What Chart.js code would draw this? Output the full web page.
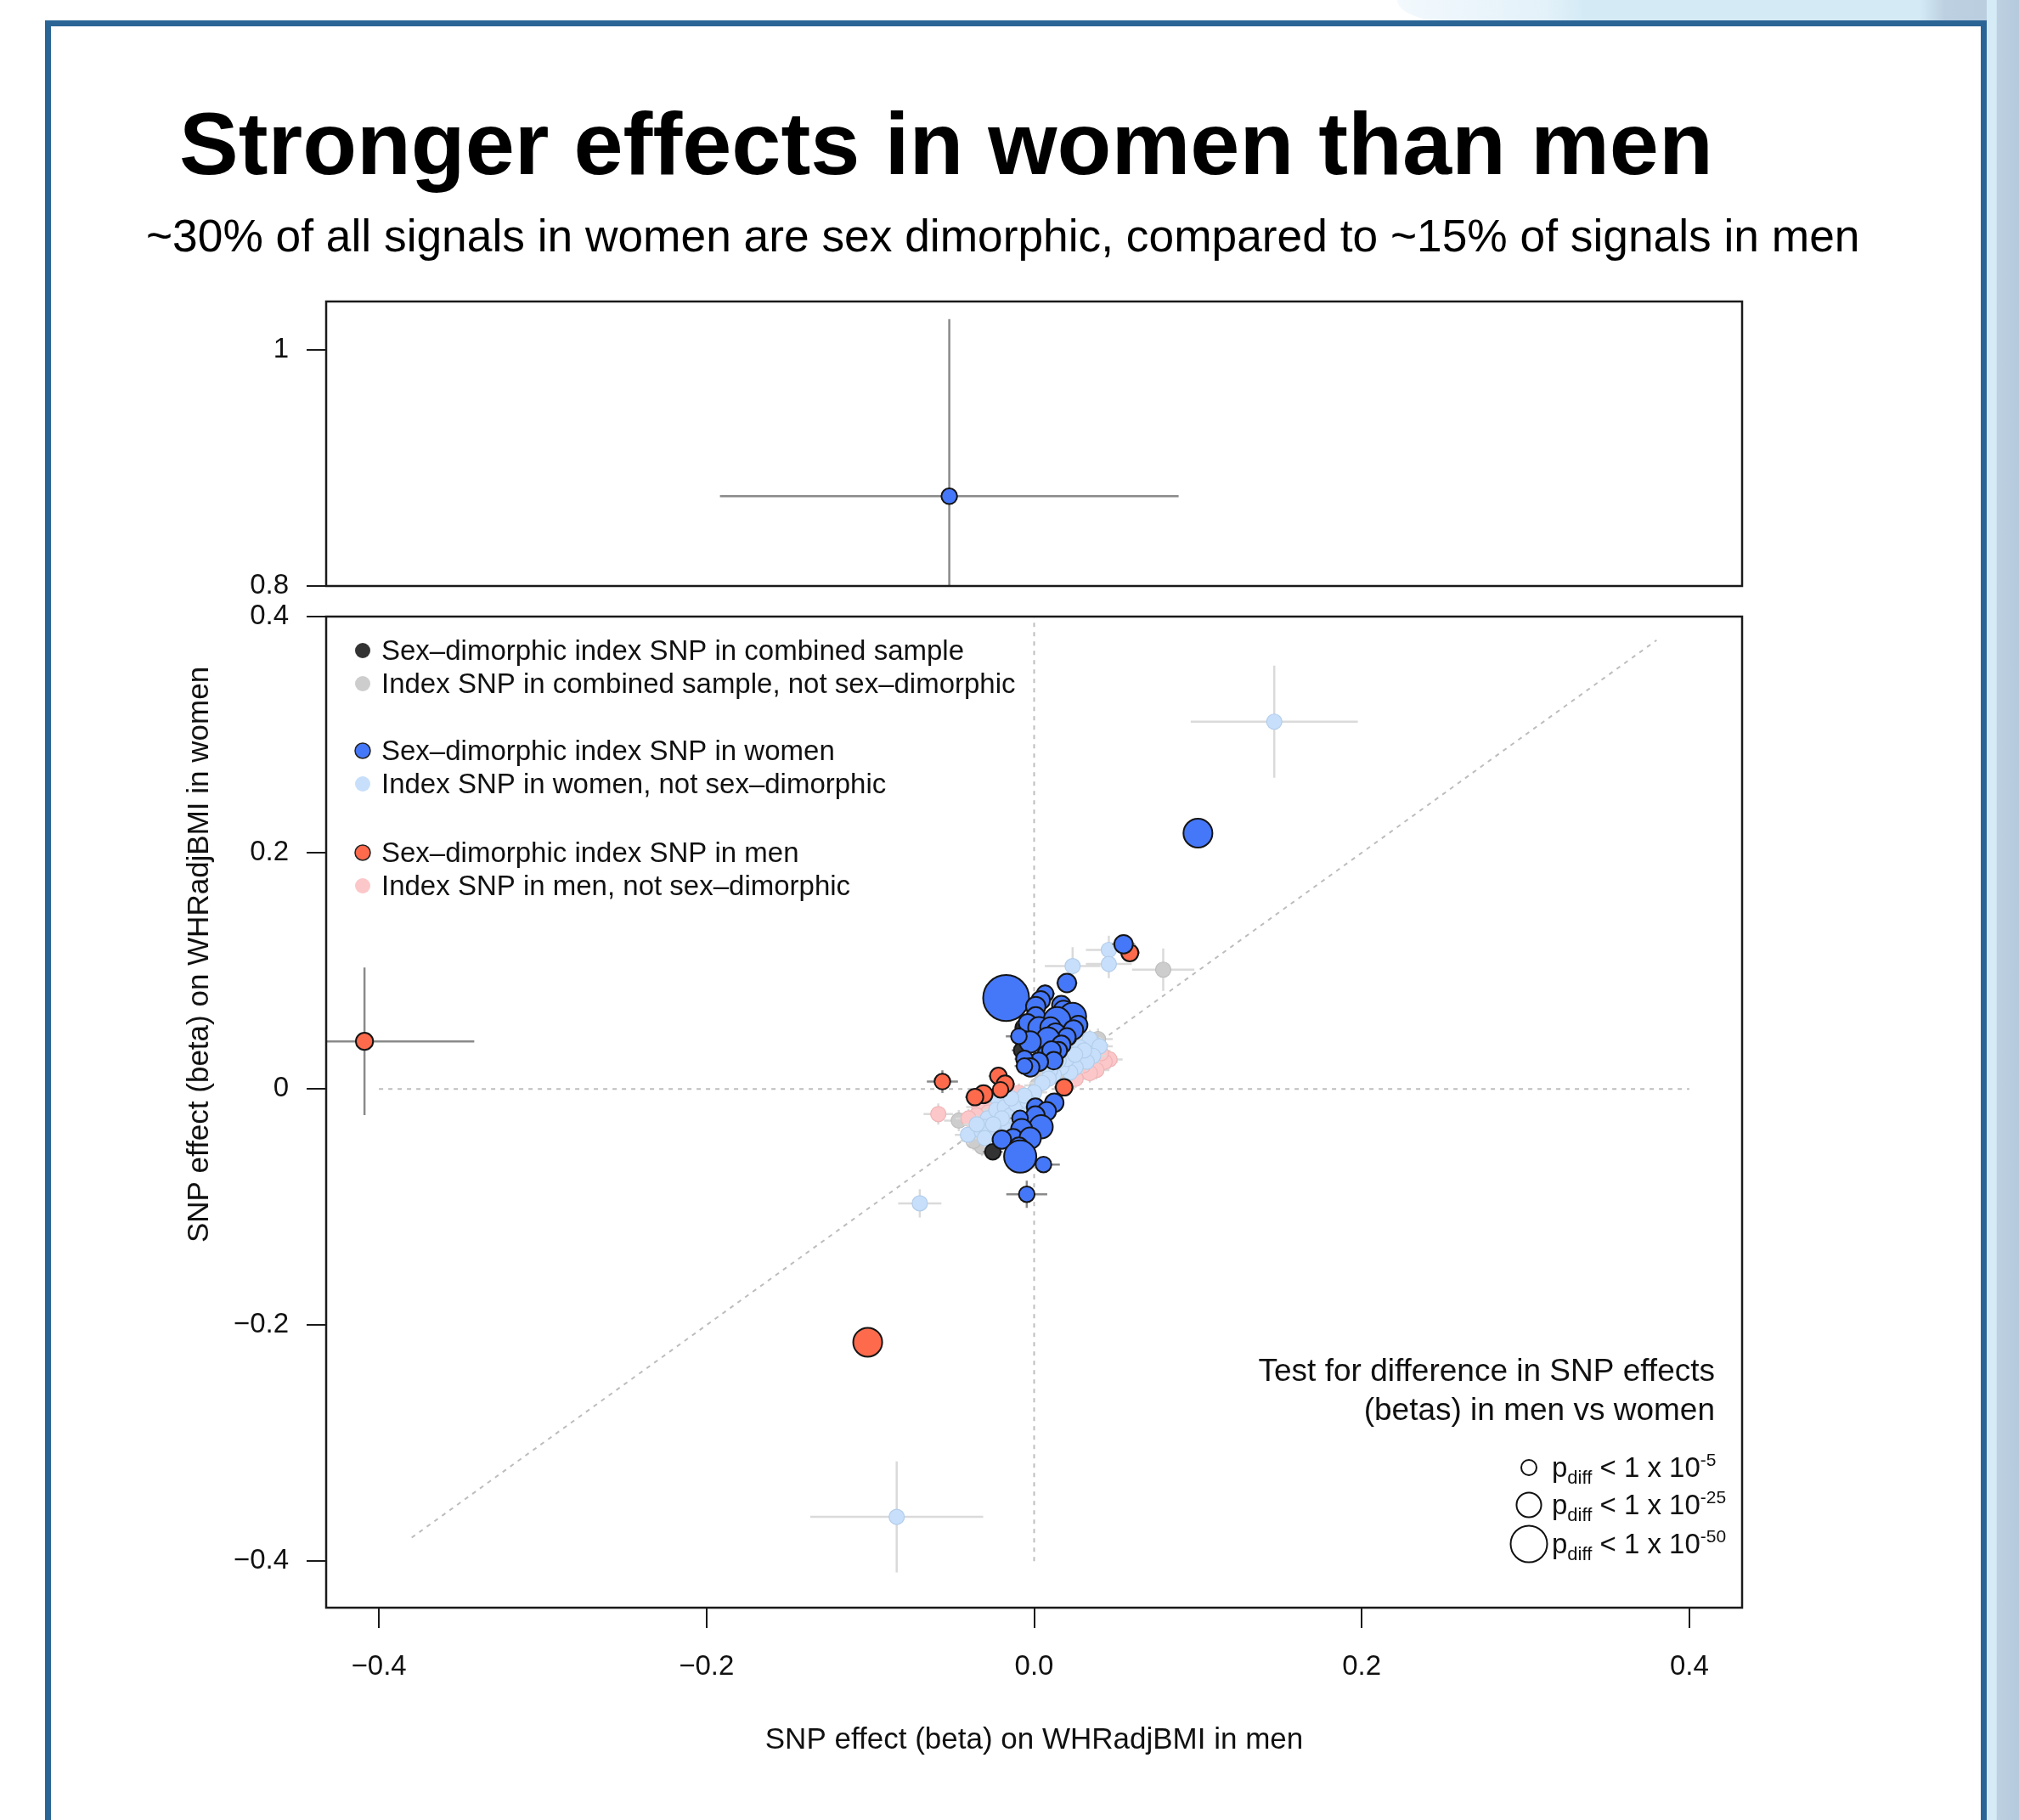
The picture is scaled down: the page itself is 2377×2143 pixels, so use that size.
<!DOCTYPE html>
<html>
<head>
<meta charset="utf-8">
<title>Stronger effects in women than men</title>
<script src="https://cdn.jsdelivr.net/npm/chart.js@4.4.1/dist/chart.umd.min.js"></script>
<style>
  html, body { margin: 0; padding: 0; background: #fff; }
  #slide { position: relative; width: 2377px; height: 2143px; overflow: hidden; background: #fff;
           font-family: "Liberation Sans", Arial, Helvetica, sans-serif; color: #000; }
  .deco-top { position: absolute; left: 1645px; top: 0; width: 732px; height: 27px;
              background: linear-gradient(to right, #f3f9fd 0%, #e3f1f9 24%, #d4ebf6 30%, #d4ebf6 84%, #bdd0e1 88%, #b8ccdf 100%);
              border-bottom-left-radius: 70px 27px; }
  .deco-side { position: absolute; left: 2339px; top: 0; width: 38px; height: 2143px;
               background: linear-gradient(to right, #d5ebf6 0%, #d5ebf6 30%, #bdd0e1 31%, #b6cade 100%); }
  #frame { position: absolute; left: 53px; top: 24px; width: 2286px; height: 2200px;
           border: 7px solid #2b6596; box-sizing: border-box; }
  #title { position: absolute; left: 211px; top: 117px; font-size: 104.5px; font-weight: bold;
           line-height: 1; white-space: nowrap; }
  #subtitle { position: absolute; left: 172px; top: 251px; font-size: 53.3px; line-height: 1; white-space: nowrap; }
  canvas { position: absolute; left: 0; top: 0; }
</style>
</head>
<body>
<div id="slide">
  <div class="deco-top"></div>
  <div class="deco-side"></div>
  <div id="frame"></div>
  <div id="title">Stronger effects in women than men</div>
  <div id="subtitle">~30% of all signals in women are sex dimorphic, compared to ~15% of signals in men</div>
  <canvas id="lower" width="2377" height="2143"></canvas>
  <canvas id="upper" width="2377" height="2143"></canvas>
</div>
<script>
// rows: [beta men, beta women, CI half-width men, CI half-width women, -log10 p_diff]
const womenSig = [
    [-0.0518, 0.876, 0.140, 0.150, 6],
    [0.100, 0.2166, 0.006, 0.006, 34],
    [-0.0171, 0.077, 0.006, 0.006, 70],
    [0.0546, 0.1225, 0.007, 0.006, 12],
    [0.020, 0.0897, 0.0064, 0.006, 12],
    [0.0067, 0.0806, 0.006, 0.008, 8],
    [0.004, 0.075, 0.006, 0.006, 12],
    [0.001, 0.0698, 0.006, 0.006, 14],
    [0.0166, 0.071, 0.006, 0.006, 12],
    [0.018, 0.066, 0.006, 0.006, 16],
    [0.001, 0.0614, 0.006, 0.006, 12],
    [0.0235, 0.0614, 0.006, 0.006, 30],
    [0.014, 0.0578, 0.006, 0.006, 30],
    [0.0269, 0.0542, 0.006, 0.006, 12],
    [-0.004, 0.056, 0.006, 0.006, 10],
    [0.0029, 0.0518, 0.006, 0.006, 18],
    [0.010, 0.052, 0.006, 0.006, 16],
    [0.024, 0.050, 0.006, 0.006, 14],
    [0.0131, 0.047, 0.006, 0.006, 15],
    [0.020, 0.044, 0.006, 0.006, 10],
    [0.0085, 0.0422, 0.006, 0.006, 22],
    [-0.0024, 0.0398, 0.006, 0.006, 18],
    [-0.0093, 0.0446, 0.008, 0.006, 6],
    [0.0166, 0.0374, 0.006, 0.006, 12],
    [0.0077, 0.029, 0.006, 0.006, 12],
    [0.0149, 0.0326, 0.006, 0.006, 9],
    [0.0106, 0.0326, 0.006, 0.006, 12],
    [0.012, 0.024, 0.006, 0.006, 10],
    [0.0029, 0.023, 0.006, 0.006, 12],
    [-0.0059, 0.0254, 0.006, 0.006, 8],
    [-0.0024, 0.0182, 0.006, 0.006, 12],
    [-0.0059, 0.0194, 0.006, 0.006, 6],
    [0.0123, -0.0117, 0.006, 0.006, 12],
    [0.0008, -0.0153, 0.006, 0.006, 9],
    [0.0077, -0.0189, 0.006, 0.006, 12],
    [0.0008, -0.0225, 0.006, 0.006, 12],
    [-0.0086, -0.0249, 0.006, 0.006, 6],
    [0.0043, -0.0321, 0.006, 0.006, 22],
    [-0.0076, -0.0345, 0.006, 0.006, 18],
    [-0.0128, -0.0417, 0.006, 0.006, 12],
    [-0.0024, -0.0417, 0.006, 0.006, 18],
    [-0.0197, -0.0429, 0.006, 0.006, 12],
    [-0.0093, -0.0489, 0.006, 0.006, 12],
    [-0.0085, -0.0573, 0.006, 0.006, 41],
    [0.0057, -0.064, 0.010, 0.006, 6],
    [-0.0045, -0.0892, 0.0125, 0.0115, 6]
];
const menSig = [
    [-0.4088, 0.0403, 0.067, 0.0625, 9],
    [-0.1016, -0.2145, 0.006, 0.006, 34],
    [0.0584, 0.1153, 0.006, 0.006, 9],
    [0.0209, 0.0434, 0.006, 0.006, 6],
    [0.0183, 0.0014, 0.006, 0.006, 8],
    [-0.056, 0.0062, 0.0095, 0.0096, 6],
    [-0.0218, 0.011, 0.006, 0.006, 8],
    [-0.0177, 0.0041, 0.006, 0.006, 9],
    [-0.0205, -0.0007, 0.006, 0.006, 6],
    [-0.0309, -0.0045, 0.006, 0.006, 11],
    [-0.0361, -0.0069, 0.006, 0.006, 8]
];
const combinedSig = [
    [-0.0059, 0.0518, 0.006, 0.006, 11],
    [-0.0076, 0.0326, 0.006, 0.006, 6],
    [-0.0252, -0.0532, 0.006, 0.006, 6]
];
// rows: [beta men, beta women, CI half-width men, CI half-width women]
const womenNonSig = [
    [0.1466, 0.311, 0.051, 0.0475],
    [-0.0839, -0.3624, 0.0528, 0.047],
    [-0.0698, -0.0969, 0.0132, 0.012],
    [0.0235, 0.104, 0.017, 0.016],
    [0.0456, 0.1177, 0.014, 0.012],
    [0.0456, 0.1058, 0.014, 0.012],
    [-0.0404, -0.0388, 0.008, 0.008],
    [0.0373, 0.0374, 0.008, 0.008],
    [0.034, 0.0422, 0.008, 0.008],
    [0.040, 0.036, 0.008, 0.008],
    [0.036, 0.028, 0.008, 0.008],
    [0.028, 0.035, 0.008, 0.008],
    [0.0321, 0.023, 0.008, 0.008],
    [0.0253, 0.0182, 0.008, 0.008],
    [0.022, 0.014, 0.008, 0.008],
    [0.0166, 0.0182, 0.008, 0.008],
    [0.012, 0.012, 0.008, 0.008],
    [0.0097, 0.0158, 0.008, 0.008],
    [0.008, 0.020, 0.008, 0.008],
    [0.0201, 0.0254, 0.008, 0.008],
    [0.0305, 0.0326, 0.008, 0.008],
    [0.0088, 0.0086, 0.008, 0.008],
    [0.005, 0.005, 0.008, 0.008],
    [0.015, 0.024, 0.008, 0.008],
    [0.025, 0.029, 0.008, 0.008],
    [0.000, -0.003, 0.008, 0.008],
    [-0.003, -0.020, 0.008, 0.008],
    [-0.008, -0.018, 0.008, 0.008],
    [-0.016, -0.030, 0.008, 0.008],
    [-0.022, -0.009, 0.008, 0.008],
    [-0.0283, -0.0249, 0.008, 0.008],
    [-0.0231, -0.0177, 0.008, 0.008],
    [-0.0179, -0.0153, 0.008, 0.008],
    [-0.0145, -0.0225, 0.008, 0.008],
    [-0.0301, -0.0321, 0.008, 0.008],
    [-0.0249, -0.0369, 0.008, 0.008],
    [-0.032, -0.036, 0.008, 0.008],
    [-0.0301, -0.0417, 0.008, 0.008],
    [-0.011, -0.0129, 0.008, 0.008],
    [-0.0041, -0.0105, 0.008, 0.008],
    [-0.0197, -0.0249, 0.008, 0.008],
    [-0.0059, -0.0057, 0.008, 0.008],
    [-0.014, -0.008, 0.008, 0.008],
    [-0.025, -0.030, 0.008, 0.008],
    [-0.035, -0.030, 0.008, 0.008]
];
const menNonSig = [
    [-0.0585, -0.0213, 0.009, 0.009],
    [0.046, 0.025, 0.008, 0.008],
    [0.043, 0.023, 0.008, 0.008],
    [0.0408, 0.0302, 0.008, 0.008],
    [0.038, 0.016, 0.008, 0.008],
    [0.034, 0.0134, 0.008, 0.008],
    [0.0253, 0.0086, 0.008, 0.008],
    [0.030, 0.020, 0.008, 0.008],
    [-0.0335, -0.0153, 0.008, 0.008],
    [-0.0266, -0.0105, 0.008, 0.008],
    [-0.028, -0.020, 0.008, 0.008],
    [-0.0352, -0.0225, 0.008, 0.008],
    [-0.040, -0.025, 0.008, 0.008],
    [-0.0093, -0.0033, 0.008, 0.008]
];
const combinedNonSig = [
    [0.0788, 0.101, 0.019, 0.018],
    [-0.046, -0.0268, 0.009, 0.009],
    [0.039, 0.0422, 0.009, 0.009],
    [0.035, 0.030, 0.008, 0.008],
    [0.026, 0.022, 0.008, 0.008],
    [0.0149, 0.011, 0.008, 0.008],
    [0.0201, 0.0086, 0.008, 0.008],
    [0.0045, 0.0134, 0.008, 0.008],
    [0.002, 0.003, 0.008, 0.008],
    [-0.0318, -0.0489, 0.008, 0.008],
    [-0.037, -0.044, 0.008, 0.008],
    [-0.030, -0.022, 0.008, 0.008],
    [-0.020, -0.030, 0.008, 0.008],
    [-0.012, -0.018, 0.008, 0.008]
];

const xTicks = [-0.4, -0.2, 0, 0.2, 0.4];
const xTickLabels = ['\u22120.4', '\u22120.2', '0.0', '0.2', '0.4'];
const lowerYTicks = [-0.4, -0.2, 0, 0.2, 0.4];
const lowerYTickLabels = ['\u22120.4', '\u22120.2', '0', '0.2', '0.4'];
const upperYTicks = [0.8, 1];
const upperYTickLabels = ['0.8', '1'];

const legendLabels = [
    'Sex\u2013dimorphic index SNP in combined sample',
    'Index SNP in combined sample, not sex\u2013dimorphic',
    'Sex\u2013dimorphic index SNP in women',
    'Index SNP in women, not sex\u2013dimorphic',
    'Sex\u2013dimorphic index SNP in men',
    'Index SNP in men, not sex\u2013dimorphic'
];
const sizeLegendTitle = ['Test for difference in SNP effects', '(betas) in men vs women'];
const sizeLegendExponents = [5, 25, 50];
const xTitle = 'SNP effect (beta) on WHRadjBMI in men';
const yTitle = 'SNP effect (beta) on WHRadjBMI in women';

// axis limits and reference lines (R-style 4% padding)
const xRange = [-0.4322, 0.4322];
const lowerYRange = [-0.4393, 0.4];
const upperYRange = [0.8, 1.041];
const zeroSpan = 0.4;
const identitySpan = 0.38;

// layout
const plotLeft = 384, plotRight = 2051;
const W = 2377, H = 2143;
const xAxisHeight = 120;
const FONT = '"Liberation Sans", Arial, Helvetica, sans-serif';

const BLUE = '#4577f9', RED = '#fd6a4c', BLACK = '#333333';
const LIGHTBLUE = '#c7dffa', PINK = '#fcc7c9', GREY = '#cdcdcd';

const sizeOf = lp => 7.6 + 0.278 * lp;

// index 0 is drawn on top
const series = [
    { rows: womenSig, fill: BLUE, sig: true },
    { rows: menSig, fill: RED, sig: true },
    { rows: combinedSig, fill: BLACK, sig: true },
    { rows: womenNonSig, fill: LIGHTBLUE, edge: '#b3cdea', sig: false },
    { rows: menNonSig, fill: PINK, edge: '#efb4b6', sig: false },
    { rows: combinedNonSig, fill: GREY, edge: '#bdbdbd', sig: false }
];

function pointDatasets() {
    return series.map(s => ({
        data: s.rows.map(r => ({ x: r[0], y: r[1], ciX: r[2], ciY: r[3], lp: r[4] })),
        backgroundColor: s.fill,
        borderColor: s.sig ? '#151515' : s.edge,
        borderWidth: s.sig ? 2 : 1.2,
        pointRadius: c => (s.sig && c.raw) ? sizeOf(c.raw.lp) : 9,
        pointHoverRadius: c => (s.sig && c.raw) ? sizeOf(c.raw.lp) : 9,
        barColor: s.sig ? '#8a8a8a' : '#dadada',
        clip: 0
    }));
}

function refLine(points) {
    return {
        data: points,
        showLine: true,
        borderColor: '#bdbdbd',
        borderWidth: 2,
        borderDash: [5, 6],
        pointRadius: 0,
        clip: 0
    };
}

const errorBars = {
    id: 'errorBars',
    beforeDatasetDraw(chart, args) {
        const ds = chart.data.datasets[args.index];
        if (!ds.barColor) return;
        const { ctx, chartArea: a, scales: { x, y } } = chart;
        ctx.save();
        ctx.beginPath();
        ctx.rect(a.left, a.top, a.right - a.left, a.bottom - a.top);
        ctx.clip();
        ctx.strokeStyle = ds.barColor;
        ctx.lineWidth = 2.5;
        ctx.beginPath();
        ds.data.forEach(p => {
            const px = x.getPixelForValue(p.x), py = y.getPixelForValue(p.y);
            ctx.moveTo(x.getPixelForValue(p.x - p.ciX), py);
            ctx.lineTo(x.getPixelForValue(p.x + p.ciX), py);
            ctx.moveTo(px, y.getPixelForValue(p.y - p.ciY));
            ctx.lineTo(px, y.getPixelForValue(p.y + p.ciY));
        });
        ctx.stroke();
        ctx.restore();
    }
};

const plotBox = {
    id: 'plotBox',
    afterDraw(chart) {
        const { ctx, chartArea: a } = chart;
        ctx.save();
        ctx.strokeStyle = '#1a1a1a';
        ctx.lineWidth = 2.5;
        ctx.strokeRect(a.left, a.top, a.right - a.left, a.bottom - a.top);
        ctx.restore();
    }
};

function drawPdiff(ctx, x, y, exp) {
    ctx.textAlign = 'left';
    ctx.textBaseline = 'alphabetic';
    ctx.font = '33px ' + FONT;
    ctx.fillText('p', x, y);
    let w = ctx.measureText('p').width;
    ctx.font = '22px ' + FONT;
    ctx.fillText('diff', x + w, y + 8);
    w += ctx.measureText('diff').width;
    ctx.font = '33px ' + FONT;
    ctx.fillText(' < 1 x 10', x + w, y);
    w += ctx.measureText(' < 1 x 10').width;
    ctx.font = '21px ' + FONT;
    ctx.fillText('-' + exp, x + w, y - 13);
}

const annotations = {
    id: 'annotations',
    afterDraw(chart) {
        const { ctx, chartArea: a } = chart;
        ctx.save();
        ctx.fillStyle = '#111';

        // axis titles
        ctx.font = '35px ' + FONT;
        ctx.textAlign = 'center';
        ctx.textBaseline = 'middle';
        ctx.fillText(xTitle, (a.left + a.right) / 2, 2049);
        ctx.save();
        ctx.translate(235, 1124);
        ctx.rotate(-Math.PI / 2);
        ctx.fillText(yTitle, 0, 0);
        ctx.restore();

        // colour legend
        const rowY = [766, 805, 884, 923, 1004, 1043];
        const dots = [BLACK, GREY, BLUE, LIGHTBLUE, RED, PINK];
        ctx.font = '33px ' + FONT;
        ctx.textAlign = 'left';
        legendLabels.forEach((label, i) => {
            ctx.beginPath();
            ctx.arc(427, rowY[i], 9, 0, Math.PI * 2);
            ctx.fillStyle = dots[i];
            ctx.fill();
            if (i % 2 === 0 && i > 0) {
                ctx.lineWidth = 1.5;
                ctx.strokeStyle = '#222';
                ctx.stroke();
            }
            ctx.fillStyle = '#111';
            ctx.fillText(label, 449, rowY[i] + 2);
        });

        // size legend
        ctx.font = '37px ' + FONT;
        ctx.textAlign = 'right';
        ctx.fillText(sizeLegendTitle[0], 2019, 1616);
        ctx.fillText(sizeLegendTitle[1], 2019, 1662);
        const sizeY = [1728, 1772, 1818];
        sizeLegendExponents.forEach((e, i) => {
            ctx.beginPath();
            ctx.arc(1800, sizeY[i], sizeOf(e), 0, Math.PI * 2);
            ctx.lineWidth = 2;
            ctx.strokeStyle = '#111';
            ctx.stroke();
            drawPdiff(ctx, 1827, sizeY[i] + 11, e);
        });
        ctx.restore();
    }
};

const tickFont = { family: FONT, size: 33 };

function yAxis(range, ticks, labels) {
    return {
        type: 'linear',
        position: 'left',
        min: range[0],
        max: range[1],
        afterFit: s => { s.width = plotLeft; },
        afterBuildTicks: s => { s.ticks = ticks.map(v => ({ value: v })); },
        grid: { drawOnChartArea: false, tickLength: 23, color: '#1a1a1a', lineWidth: 2 },
        border: { display: false },
        ticks: { autoSkip: false, padding: 21, color: '#111', font: tickFont,
                 callback: v => labels[ticks.indexOf(v)] }
    };
}

function xAxis(show) {
    return {
        type: 'linear',
        position: 'bottom',
        display: show,
        min: xRange[0],
        max: xRange[1],
        afterFit: s => { s.height = show ? xAxisHeight : 0; },
        afterBuildTicks: s => { s.ticks = xTicks.map(v => ({ value: v })); },
        grid: { drawOnChartArea: false, tickLength: 24, color: '#1a1a1a', lineWidth: 2 },
        border: { display: false },
        ticks: { autoSkip: false, maxRotation: 0, padding: 26, color: '#111', font: tickFont,
                 callback: v => xTickLabels[xTicks.indexOf(v)] }
    };
}

const common = {
    responsive: false,
    animation: false,
    events: [],
    plugins: { legend: { display: false }, tooltip: { enabled: false } }
};

new Chart(document.getElementById('lower'), {
    type: 'scatter',
    data: {
        datasets: pointDatasets().concat([
            refLine([{ x: -identitySpan, y: -identitySpan }, { x: identitySpan, y: identitySpan }]),
            refLine([{ x: 0, y: -zeroSpan }, { x: 0, y: zeroSpan }]),
            refLine([{ x: -zeroSpan, y: 0 }, { x: zeroSpan, y: 0 }])
        ])
    },
    options: Object.assign({}, common, {
        layout: { padding: { top: 726, right: W - plotRight, bottom: H - 1893 - xAxisHeight, left: 0 } },
        scales: {
            x: xAxis(true),
            y: yAxis(lowerYRange, lowerYTicks, lowerYTickLabels)
        }
    }),
    plugins: [errorBars, plotBox, annotations]
});

new Chart(document.getElementById('upper'), {
    type: 'scatter',
    data: { datasets: pointDatasets() },
    options: Object.assign({}, common, {
        layout: { padding: { top: 355, right: W - plotRight, bottom: H - 690, left: 0 } },
        scales: {
            x: xAxis(false),
            y: yAxis(upperYRange, upperYTicks, upperYTickLabels)
        }
    }),
    plugins: [errorBars, plotBox]
});
</script>
</body>
</html>
